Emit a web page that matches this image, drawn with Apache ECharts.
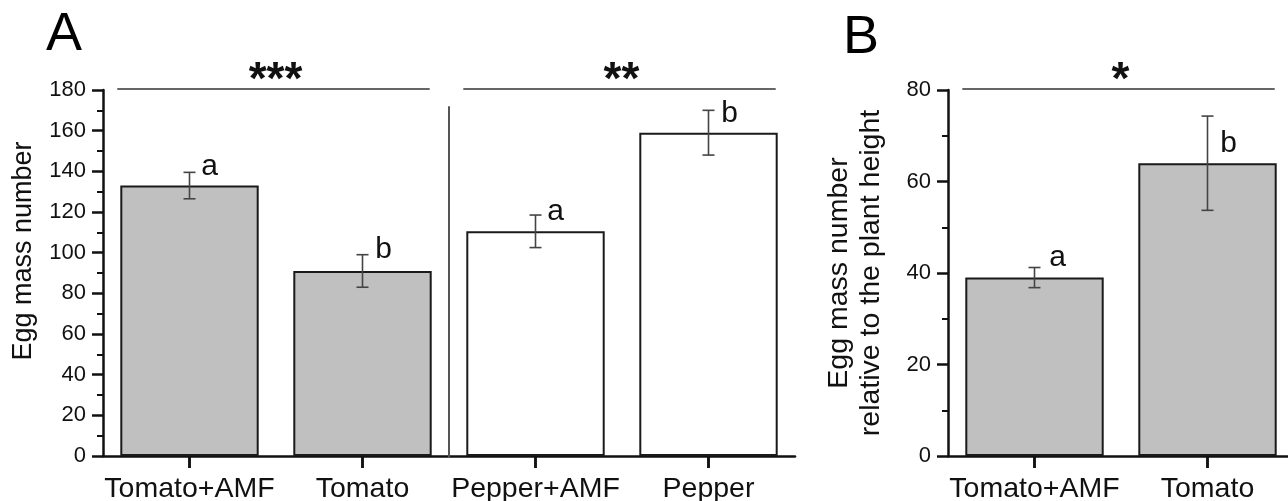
<!DOCTYPE html>
<html>
<head>
<meta charset="utf-8">
<script src="https://cdn.jsdelivr.net/npm/echarts@6/dist/echarts.min.js"></script>
<style>
html,body{margin:0;padding:0;background:#fff;}
#c{width:1288px;height:501px;}
</style>
</head>
<body>
<div id="c"></div>
<script>
// ---- data ----
const catsA = ['Tomato+AMF', 'Tomato', 'Pepper+AMF', 'Pepper'];
const meansA = [133, 91, 110.5, 159];
const errA = [6.5, 8, 8, 11];
const lettersA = ['a', 'b', 'a', 'b'];
const sigPairsA = [[0, 1], [2, 3]];
const sigLabelsA = ['***', '**'];
const sigLevelA = 180;

const catsB = ['Tomato+AMF', 'Tomato'];
const meansB = [39, 64];
const errB = [2.2, 10.3];
const lettersB = ['a', 'b'];
const sigPairsB = [[0, 1]];
const sigLabelsB = ['*'];
const sigLevelB = 80;

// ---- styles ----
const FONT = '"Liberation Sans", Arial, Helvetica, sans-serif';
const fillsA = ['#c0c0c0', '#c0c0c0', '#ffffff', '#ffffff'];
const fillsB = ['#c0c0c0', '#c0c0c0'];
const letterOffA = [[20, -6], [21, -5], [20, -3], [21, 3]];
const letterOffB = [[23, -10], [21, 28]];

const chart = echarts.init(document.getElementById('c'), null, {renderer: 'canvas'});

function xAxisCfg(gi, cats) {
  return {
    type: 'category', gridIndex: gi, data: cats,
    axisLine: {show: true, onZero: false, lineStyle: {color: '#111', width: 2.5}},
    axisTick: {show: true, inside: false, interval: 0, alignWithLabel: true, length: 12, lineStyle: {color: '#111', width: 2.5}},
    axisLabel: {interval: 0, color: '#111', fontSize: 28.5, fontFamily: FONT, margin: 19, hideOverlap: false},
    splitLine: {show: false}
  };
}
function yAxisCfg(gi, max, interval, name, gap, nameStyle) {
  return {
    type: 'value', gridIndex: gi, min: 0, max: max, interval: interval,
    name: name, nameLocation: 'middle', nameGap: gap,
    nameTextStyle: Object.assign({color: '#111', fontSize: 27, fontFamily: FONT}, nameStyle),
    axisLine: {show: true, lineStyle: {color: '#111', width: 2.5}},
    axisTick: {show: true, inside: false, length: 11, lineStyle: {color: '#111', width: 2.5}},
    minorTick: {show: true, splitNumber: 2, length: 6, lineStyle: {color: '#111', width: 2}},
    axisLabel: {color: '#111', fontSize: 22, fontFamily: FONT, margin: 17},
    splitLine: {show: false}
  };
}
function barSeries(gi, means, fills) {
  return {
    type: 'bar', xAxisIndex: gi, yAxisIndex: gi, barWidth: '80%',
    data: means.map((v, i) => ({value: v, itemStyle: {color: fills[i]}})),
    itemStyle: {borderColor: '#1a1a1a', borderWidth: 2},
    emphasis: {disabled: true}, animation: false, z: 2
  };
}
function errSeries(gi, means, errs, letters, offs) {
  return {
    type: 'custom', xAxisIndex: gi, yAxisIndex: gi, animation: false, z: 5, clip: false,
    data: means.map((m, i) => [i, m - errs[i], m + errs[i]]),
    renderItem: function (params, api) {
      const i = api.value(0);
      const lo = api.coord([i, api.value(1)]);
      const hi = api.coord([i, api.value(2)]);
      const base = api.coord([i, 0]);
      const cap = 6;
      const st = {stroke: '#444', lineWidth: 1.6};
      const off = offs[params.dataIndex];
      return {
        type: 'group', children: [
          // category tick below the x axis
          {type: 'line', shape: {x1: base[0], y1: base[1], x2: base[0], y2: base[1] + 12},
            style: {stroke: '#111', lineWidth: 2.5}},
          {type: 'line', shape: {x1: hi[0], y1: hi[1], x2: lo[0], y2: lo[1]}, style: st},
          {type: 'line', shape: {x1: hi[0] - cap, y1: hi[1], x2: hi[0] + cap, y2: hi[1]}, style: st},
          {type: 'line', shape: {x1: lo[0] - cap, y1: lo[1], x2: lo[0] + cap, y2: lo[1]}, style: st},
          {type: 'text', x: hi[0] + off[0], y: hi[1] + off[1],
            style: {text: letters[params.dataIndex], fontSize: 30, fontFamily: FONT, fill: '#111',
              align: 'center', verticalAlign: 'middle'}}
        ]
      };
    }
  };
}
function sigSeries(gi, pairs, labels, level, divider) {
  return {
    type: 'custom', xAxisIndex: gi, yAxisIndex: gi, animation: false, z: 6, clip: false,
    data: pairs.map(p => [p[0], p[1], level]),
    renderItem: function (params, api) {
      const band = api.size([1, 0])[0];
      const a = api.coord([api.value(0), api.value(2)]);
      const b = api.coord([api.value(1), api.value(2)]);
      const x1 = a[0] - band * 0.4 - 3;
      const x2 = b[0] + band * 0.4 - 2;
      const y = a[1] - 1;
      const children = [
        {type: 'line', shape: {x1: x1, y1: y, x2: x2, y2: y}, style: {stroke: '#333', lineWidth: 1.6}},
        {type: 'text', x: (x1 + x2) / 2 + 2, y: y - 8,
          style: {text: labels[params.dataIndex], fontSize: 46, fontWeight: 'bold', fontFamily: FONT,
            fill: '#111', align: 'center', verticalAlign: 'middle'}}
      ];
      if (divider && params.dataIndex === 0) {
        const c1 = api.coord([api.value(1), 172]);
        const c2 = api.coord([api.value(1) + 1, 0]);
        const dx = (c1[0] + c2[0]) / 2;
        children.push({type: 'line', shape: {x1: dx, y1: c1[1], x2: dx, y2: c2[1] + 2},
          style: {stroke: '#555', lineWidth: 2}});
      }
      return {type: 'group', children: children};
    }
  };
}

chart.setOption({
  animation: false,
  backgroundColor: '#fff',
  grid: [
    {left: 103, top: 90, width: 692, height: 366, containLabel: false, outerBoundsMode: 'none'},
    {left: 948, top: 90, width: 346, height: 366, containLabel: false, outerBoundsMode: 'none'}
  ],
  xAxis: [xAxisCfg(0, catsA), xAxisCfg(1, catsB)],
  yAxis: [
    yAxisCfg(0, 180, 20, 'Egg mass number', 66, {padding: [0, 0, 0, 44]}),
    yAxisCfg(1, 80, 20, 'Egg mass number\nrelative to the plant height', 61, {fontSize: 28.5, lineHeight: 32})
  ],
  graphic: [
    {type: 'text', x: 46, y: 35, style: {text: 'A', fontSize: 54, fontFamily: FONT, fill: '#000', verticalAlign: 'middle'}},
    {type: 'text', x: 843, y: 38, style: {text: 'B', fontSize: 54, fontFamily: FONT, fill: '#000', verticalAlign: 'middle'}}
  ],
  series: [
    barSeries(0, meansA, fillsA),
    barSeries(1, meansB, fillsB),
    errSeries(0, meansA, errA, lettersA, letterOffA),
    errSeries(1, meansB, errB, lettersB, letterOffB),
    sigSeries(0, sigPairsA, sigLabelsA, sigLevelA, true),
    sigSeries(1, sigPairsB, sigLabelsB, sigLevelB, false)
  ]
});
</script>
</body>
</html>
